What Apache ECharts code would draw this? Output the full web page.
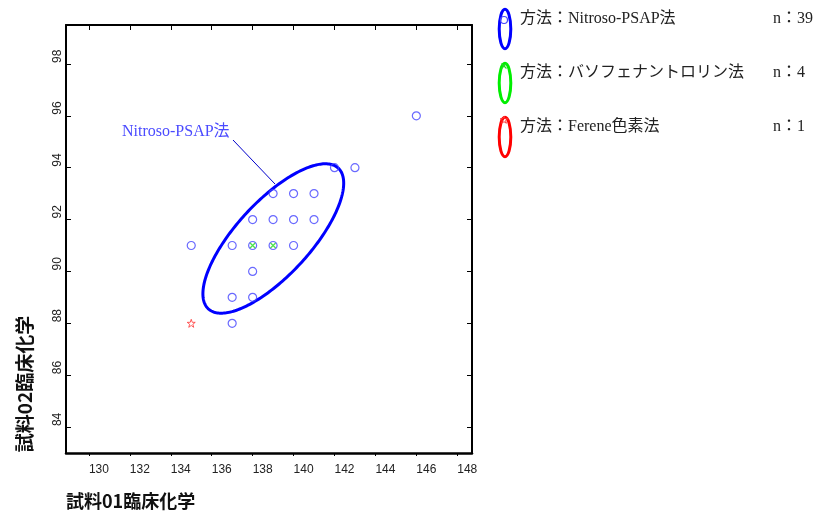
<!DOCTYPE html>
<html><head><meta charset="utf-8">
<script src="https://cdn.jsdelivr.net/npm/echarts@6/dist/echarts.min.js"></script>
<style>html,body{margin:0;padding:0;background:#fff}#c{width:816px;height:512px}</style>
</head><body><div id="c"></div>
<script>
// ---- data ----
const xTicks = [130, 132, 134, 136, 138, 140, 142, 144, 146, 148];
const yTicks = [84, 86, 88, 90, 92, 94, 96, 98];
const nitrosoPoints = [[146, 96], [142, 94], [143, 94], [139, 93], [140, 93], [141, 93],
  [138, 92], [139, 92], [140, 92], [141, 92], [135, 91], [137, 91], [138, 91], [139, 91],
  [140, 91], [138, 90], [137, 89], [138, 89], [137, 88]];
const bathoPoints = [[138, 91], [139, 91]];
const ferenePoints = [[135, 88]];
const methodNames = ['Nitroso-PSAP法', 'バソフェナントロリン法', 'Ferene色素法'];
const methodCounts = [39, 4, 1];
const ellipseCenter = [139.01, 91.27];
const ellipseHalfX = 3.44, ellipseHalfY = 2.88, ellipseCorr = 0.74;
const xName = '試料01臨床化学';
const yName = '試料02臨床化学';
const annotationText = 'Nitroso-PSAP法';

// ---- style ----
const serif = '"Liberation Serif", "Noto Sans CJK JP", serif';
const tickFont = '"Liberation Sans Narrow", "Liberation Sans", Arial, sans-serif';
const methodColors = ['#0000ff', '#00ee00', '#ff0000'];
const markerColors = ['#4444ff', '#22dd22', '#ff3333'];
const starPath = 'path://M10,0L12.35,6.76L19.51,6.91L13.8,11.24L15.88,18.09L10,14L4.12,18.09L6.2,11.24L0.49,6.91L7.65,6.76Z';
const crossPath = 'path://M0,0L10,10M10,0L0,10';

const chart = echarts.init(document.getElementById('c'), null, {renderer: 'canvas'});

function starPoints(cx, cy, R, r) {
  const p = [];
  for (let k = 0; k < 10; k++) {
    const a = -Math.PI / 2 + k * Math.PI / 5;
    const rr = k % 2 === 0 ? R : r;
    p.push([cx + rr * Math.cos(a), cy + rr * Math.sin(a)]);
  }
  return p;
}

const graphics = [];
// legend
methodNames.forEach((name, i) => {
  const y0 = i * 54;
  graphics.push({type: 'ellipse', z: 1, shape: {cx: 505, cy: 29 + y0, rx: 5.8, ry: 19.7},
    style: {fill: 'none', stroke: methodColors[i], lineWidth: 3}});
  graphics.push({type: 'text', x: 520, y: 19 + y0,
    style: {text: '方法：' + name, font: '16px ' + serif, fill: '#222',
      align: 'left', verticalAlign: 'middle', textAlign: 'left', textVerticalAlign: 'middle'}});
  graphics.push({type: 'text', x: 773, y: 19 + y0,
    style: {text: 'n：' + methodCounts[i], font: '16px ' + serif, fill: '#222',
      align: 'left', verticalAlign: 'middle', textAlign: 'left', textVerticalAlign: 'middle'}});
});
graphics.push({type: 'circle', z: 2, shape: {cx: 504, cy: 20, r: 3.5}, style: {fill: 'none', stroke: markerColors[0], lineWidth: 1.2}});
graphics.push({type: 'line', z: 2, shape: {x1: 501.5, y1: 63.5, x2: 506.5, y2: 68.5}, style: {stroke: markerColors[1], lineWidth: 1.3}});
graphics.push({type: 'line', z: 2, shape: {x1: 506.5, y1: 63.5, x2: 501.5, y2: 68.5}, style: {stroke: markerColors[1], lineWidth: 1.3}});
graphics.push({type: 'polygon', z: 2, shape: {points: starPoints(504, 120, 4, 1.7)}, style: {fill: 'none', stroke: markerColors[2], lineWidth: 1}});
// annotation
graphics.push({type: 'text', x: 122, y: 132,
  style: {text: annotationText, font: '16px ' + serif, fill: '#4b4bff',
    align: 'left', verticalAlign: 'middle', textAlign: 'left', textVerticalAlign: 'middle'}});
graphics.push({type: 'line', shape: {x1: 233, y1: 140, x2: 275, y2: 184}, style: {stroke: '#0000cc', lineWidth: 1}});
// axis names
graphics.push({type: 'text', x: 66, y: 501,
  style: {text: xName, font: 'bold 18px "Noto Sans CJK JP", sans-serif', fill: '#111',
    align: 'left', verticalAlign: 'middle', textAlign: 'left', textVerticalAlign: 'middle'}});
graphics.push({type: 'text', x: 25, y: 384, rotation: Math.PI / 2,
  style: {text: yName, font: 'bold 19px "Noto Sans CJK JP", sans-serif', fill: '#111',
    align: 'center', verticalAlign: 'middle', textAlign: 'center', textVerticalAlign: 'middle'}});

const xBase = {type: 'value', min: 128.88, max: 148.72, splitLine: {show: false}};
const yBase = {type: 'value', min: 83, max: 99.5, splitLine: {show: false}};

chart.setOption({
  animation: false,
  backgroundColor: '#fff',
  grid: {left: 66, right: 344, top: 25, bottom: 59, containLabel: false},
  xAxis: [
    Object.assign({}, xBase, {position: 'bottom',
      axisLine: {show: true, lineStyle: {color: '#000', width: 2.5}},
      axisTick: {show: true, customValues: xTicks, inside: false, length: 3, lineStyle: {color: '#000', width: 1}},
      axisLabel: {show: true, customValues: xTicks, align: 'left', verticalAlign: 'middle', margin: 17,
        fontSize: 12, fontFamily: tickFont, color: '#222'}}),
    Object.assign({}, xBase, {position: 'top',
      axisLine: {show: true, onZero: false, lineStyle: {color: '#000', width: 2}},
      axisTick: {show: true, customValues: xTicks, inside: true, length: 5, lineStyle: {color: '#000', width: 1}},
      axisLabel: {show: false}})
  ],
  yAxis: [
    Object.assign({}, yBase, {position: 'left',
      axisLine: {show: true, onZero: false, lineStyle: {color: '#000', width: 2}},
      axisTick: {show: true, customValues: yTicks, inside: true, length: 5, lineStyle: {color: '#000', width: 1}},
      axisLabel: {show: true, customValues: yTicks, rotate: 90, align: 'left', verticalAlign: 'middle', margin: 8,
        padding: [0, 0, 0, 1], fontSize: 12, fontFamily: tickFont, color: '#222'}}),
    Object.assign({}, yBase, {position: 'right',
      axisLine: {show: true, onZero: false, lineStyle: {color: '#000', width: 2}},
      axisTick: {show: true, customValues: yTicks, inside: true, length: 5, lineStyle: {color: '#000', width: 1}},
      axisLabel: {show: false}})
  ],
  graphic: graphics,
  series: [
    {type: 'custom', name: 'ellipse', xAxisIndex: 0, yAxisIndex: 0, silent: true, z: 3,
      data: [ellipseCenter], encode: {x: 0, y: 1},
      renderItem: function (params, api) {
        const c = api.coord([api.value(0), api.value(1)]);
        const s = api.size([1, 1]);
        const k = Math.sqrt(1 - ellipseCorr * ellipseCorr);
        const pts = [];
        for (let i = 0; i < 240; i++) {
          const t = i / 240 * 2 * Math.PI;
          const dx = ellipseHalfX * Math.cos(t);
          const dy = ellipseHalfY * (ellipseCorr * Math.cos(t) + k * Math.sin(t));
          pts.push([c[0] + dx * s[0], c[1] - dy * s[1]]);
        }
        return {type: 'polygon', shape: {points: pts}, style: {fill: 'none', stroke: methodColors[0], lineWidth: 3}};
      }},
    {type: 'scatter', name: methodNames[0], xAxisIndex: 0, yAxisIndex: 0, data: nitrosoPoints,
      symbol: 'circle', symbolSize: 8, z: 4,
      itemStyle: {color: 'rgba(0,0,0,0)', borderColor: markerColors[0], borderWidth: 1.2}},
    {type: 'scatter', name: methodNames[1], xAxisIndex: 0, yAxisIndex: 0, data: bathoPoints,
      symbol: crossPath, symbolSize: 5, z: 5,
      itemStyle: {color: 'rgba(0,0,0,0)', borderColor: markerColors[1], borderWidth: 1.3}},
    {type: 'scatter', name: methodNames[2], xAxisIndex: 0, yAxisIndex: 0, data: ferenePoints,
      symbol: starPath, symbolSize: 8, z: 5,
      itemStyle: {color: 'rgba(0,0,0,0)', borderColor: markerColors[2], borderWidth: 1}}
  ]
});
</script></body></html>
